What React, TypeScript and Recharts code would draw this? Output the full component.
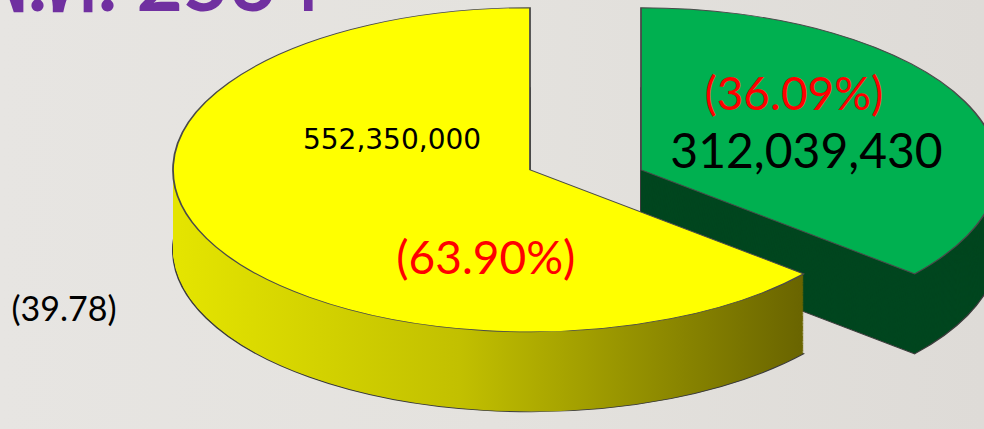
import React from 'react';
import { PieChart, Pie, Cell } from 'recharts';

// slice data
const sliceNames = ['yellow', 'green'];
const sliceValues = [552350000, 312039430];
const percentLabels = ['(63.90%)', '(36.09%)'];
const titleText = 'พ.ศ. 2564';
const sideNote = '(39.78)';

const topColors = ['#ffff00', '#00b050'];
const sideColors = ['url(#yellowSide)', '#00461f'];

// flattening of the "3D" disc and its thickness (unscaled svg units)
const K = 0.454;
const R = 357;
const CY = 374;
const DEPTH = 176;
const STEP = 2;
const centers = [530, 641]; // exploded slices

// where each label sits: angle (deg) and radius fraction from the slice apex
const labelLayout = [
  [
    { kind: 'value', angle: 154, r: 0.43, font: '"DejaVu Sans", sans-serif', size: 28, color: '#000' },
    { kind: 'pct', angle: 257, r: 0.55, font: 'Lato, sans-serif', size: 46, color: '#ff0000' },
  ],
  [
    { kind: 'pct', angle: 48, r: 0.64, font: 'Lato, sans-serif', size: 46, color: '#ff0000' },
    { kind: 'value', angle: 15, r: 0.48, font: 'Lato, sans-serif', size: 48, color: '#000' },
  ],
];

const data = sliceNames.map((name, i) => ({ name, value: sliceValues[i] }));
const fmt = (v: number) => v.toLocaleString('en-US');

const renderLabel = (slice: number) => (props: any) => {
  if (props.index !== slice) return null;
  const { cx, cy, outerRadius } = props;
  return (
    <g>
      {labelLayout[slice].map((l, j) => {
        const a = (l.angle * Math.PI) / 180;
        const x = cx + l.r * outerRadius * Math.cos(a);
        const y = cy - l.r * outerRadius * Math.sin(a);
        return (
          <text
            key={j}
            transform={`translate(${x},${y}) scale(1,${1 / K})`}
            textAnchor="middle"
            dominantBaseline="central"
            fontFamily={l.font}
            fontSize={l.size}
            fill={l.color}
          >
            {l.kind === 'pct' ? percentLabels[slice] : fmt(sliceValues[slice])}
          </text>
        );
      })}
    </g>
  );
};

const layers = Array.from({ length: Math.round(DEPTH / STEP) }, (_, i) => DEPTH - i * STEP);

const slicePies = (slice: number) => [
  ...layers.map((off, li) => (
    <Pie
      key={`s${slice}-${li}`}
      data={data}
      dataKey="value"
      cx={centers[slice]}
      cy={CY + off}
      outerRadius={R}
      startAngle={90}
      endAngle={450}
      isAnimationActive={false}
      labelLine={false}
      stroke="none"
    >
      {data.map((_, j) => (
        <Cell
          key={j}
          fill={j === slice ? sideColors[slice] : 'none'}
          stroke={j === slice && li === 0 ? '#3c3c3c' : 'none'}
          strokeWidth={2}
        />
      ))}
    </Pie>
  )),
  <Pie
    key={`top${slice}`}
    data={data}
    dataKey="value"
    cx={centers[slice]}
    cy={CY}
    outerRadius={R}
    startAngle={90}
    endAngle={450}
    isAnimationActive={false}
    labelLine={false}
    label={renderLabel(slice)}
  >
    {data.map((_, j) => (
      <Cell
        key={j}
        fill={j === slice ? topColors[slice] : 'none'}
        stroke={j === slice ? '#4a4a4a' : 'none'}
        strokeWidth={1.8}
      />
    ))}
  </Pie>,
];

export default function App() {
  return (
    <div
      style={{
        position: 'absolute',
        left: 0,
        top: 0,
        width: 984,
        height: 429,
        overflow: 'hidden',
        background: 'linear-gradient(90deg, #e7e5e2 0%, #e4e2de 50%, #dedbd7 100%)',
      }}
    >
      <div style={{ position: 'absolute', left: 0, top: 0, transform: `scaleY(${K})`, transformOrigin: '0 0' }}>
        <PieChart width={984} height={910} margin={{ top: 0, right: 0, bottom: 0, left: 0 }}>
          <defs>
            <linearGradient id="yellowSide" gradientUnits="userSpaceOnUse" x1={180} y1={0} x2={800} y2={0}>
              <stop offset="0%" stopColor="#e4e400" />
              <stop offset="45%" stopColor="#c2c000" />
              <stop offset="100%" stopColor="#6a6500" />
            </linearGradient>
          </defs>
          {slicePies(1)}
          {slicePies(0)}
        </PieChart>
      </div>
      <svg width={984} height={429} style={{ position: 'absolute', left: 0, top: 0 }}>
        <text x={322} y={11} textAnchor="end" fontFamily="Lato, 'Noto Sans', sans-serif" fontWeight={700} fontSize={80} fill="#7030a0">
          {titleText}
        </text>
        <text x={64} y={307} textAnchor="middle" dominantBaseline="central" fontFamily="Lato, sans-serif" fontSize={34} fill="#000">
          {sideNote}
        </text>
      </svg>
    </div>
  );
}
